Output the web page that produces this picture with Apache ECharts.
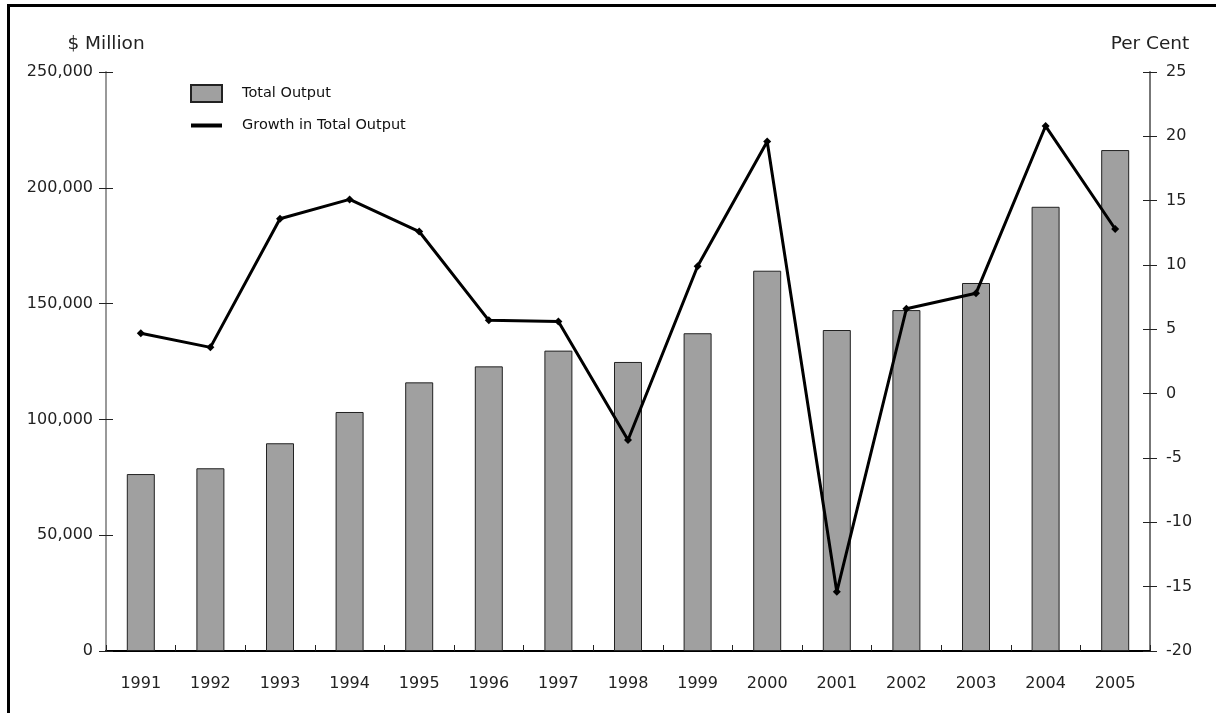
<!DOCTYPE html>
<html>
<head>
<meta charset="utf-8">
<script src="https://cdn.jsdelivr.net/npm/echarts@6/dist/echarts.min.js"></script>
<style>
  html, body { margin: 0; padding: 0; background: #fff; }
  #frame { position: absolute; left: 7px; top: 4px; width: 1209px; height: 709px;
           border-top: 3px solid #000; border-left: 3px solid #000; box-sizing: border-box; }
  #main { position: absolute; left: 0; top: 0; width: 1216px; height: 713px; }
</style>
</head>
<body>
<div id="frame"></div>
<div id="main"></div>
<script>
var years = ['1991', '1992', '1993', '1994', '1995', '1996', '1997', '1998',
             '1999', '2000', '2001', '2002', '2003', '2004', '2005'];
// total output, $ million
var totalOutput = [76400, 78900, 89700, 103200, 116000, 122900, 129700, 124800,
                   137200, 164200, 138600, 147200, 158900, 191800, 216300];
// growth in total output, per cent
var growth = [4.7, 3.6, 13.6, 15.1, 12.6, 5.7, 5.6, -3.6,
              9.9, 19.6, -15.4, 6.6, 7.8, 20.8, 12.8];

var myChart = echarts.init(document.getElementById('main'));
var font = 'DejaVu Sans';
var clear = 'rgba(0,0,0,0)';

option = {
    animation: false,
    textStyle: { fontFamily: font },
    grid: { left: 106, right: 66, top: 72, bottom: 62 },
    legend: {
        orient: 'vertical',
        left: 189,
        top: 84,
        padding: 0,
        itemWidth: 31,
        itemHeight: 17,
        itemGap: 15,
        textStyle: { fontFamily: font, fontSize: 14.5, color: '#111', padding: [0, 0, 0, 15] },
        data: [
            { name: 'Total Output', icon: 'rect' },
            { name: 'Growth in Total Output',
              itemStyle: { color: clear, borderWidth: 0 },
              lineStyle: { width: 4, color: '#000' } }
        ]
    },
    xAxis: [
        {
            type: 'category',
            data: years,
            axisLine: { lineStyle: { color: '#000', width: 2 } },
            axisTick: { length: 6, lineStyle: { color: '#222' } },
            axisLabel: { margin: 25, fontSize: 16, color: '#222', fontFamily: font },
            splitLine: { show: false }
        },
        {
            // inner half of the crossing ticks
            type: 'category',
            data: years,
            position: 'bottom',
            axisLine: { show: true, onZero: false, lineStyle: { color: clear } },
            axisTick: { show: true, inside: true, length: 6, lineStyle: { color: '#222' } },
            axisLabel: { show: false },
            splitLine: { show: false }
        }
    ],
    yAxis: [
        {
            type: 'value',
            name: '$ Million',
            nameGap: 18,
            nameTextStyle: { fontSize: 18.5, color: '#222', fontFamily: font },
            min: 0, max: 250000, interval: 50000,
            axisLine: { show: true, lineStyle: { color: '#999', width: 2 } },
            axisTick: { show: true, length: 7, lineStyle: { color: '#222' } },
            axisLabel: { margin: 13, fontSize: 16, color: '#222', fontFamily: font,
                formatter: function (v) { return v.toLocaleString('en-US'); } },
            splitLine: { show: false }
        },
        {
            type: 'value',
            name: 'Per Cent',
            nameGap: 18,
            nameTextStyle: { fontSize: 18.5, color: '#222', fontFamily: font },
            position: 'right',
            min: -20, max: 25, interval: 5,
            axisLine: { show: true, lineStyle: { color: '#777', width: 2 } },
            axisTick: { show: true, length: 7, lineStyle: { color: '#222' } },
            axisLabel: { margin: 16, fontSize: 16, color: '#222', fontFamily: font },
            splitLine: { show: false }
        },
        {
            // inner half of left crossing ticks
            type: 'value',
            position: 'left',
            min: 0, max: 250000, interval: 50000,
            axisLine: { show: true, lineStyle: { color: clear } },
            axisTick: { show: true, inside: true, length: 7, lineStyle: { color: '#222' } },
            axisLabel: { show: false },
            splitLine: { show: false }
        },
        {
            // inner half of right crossing ticks
            type: 'value',
            position: 'right',
            min: -20, max: 25, interval: 5,
            axisLine: { show: true, lineStyle: { color: clear } },
            axisTick: { show: true, inside: true, length: 7, lineStyle: { color: '#222' } },
            axisLabel: { show: false },
            splitLine: { show: false }
        }
    ],
    series: [
        {
            name: 'Total Output',
            type: 'bar',
            barWidth: 28,
            itemStyle: { color: '#a0a0a0', borderColor: '#222', borderWidth: 1 },
            data: totalOutput
        },
        {
            name: 'Growth in Total Output',
            type: 'line',
            yAxisIndex: 1,
            symbol: 'diamond',
            symbolSize: 8,
            itemStyle: { color: '#000' },
            lineStyle: { color: '#000', width: 3 },
            data: growth
        }
    ]
};
myChart.setOption(option);
</script>
</body>
</html>
